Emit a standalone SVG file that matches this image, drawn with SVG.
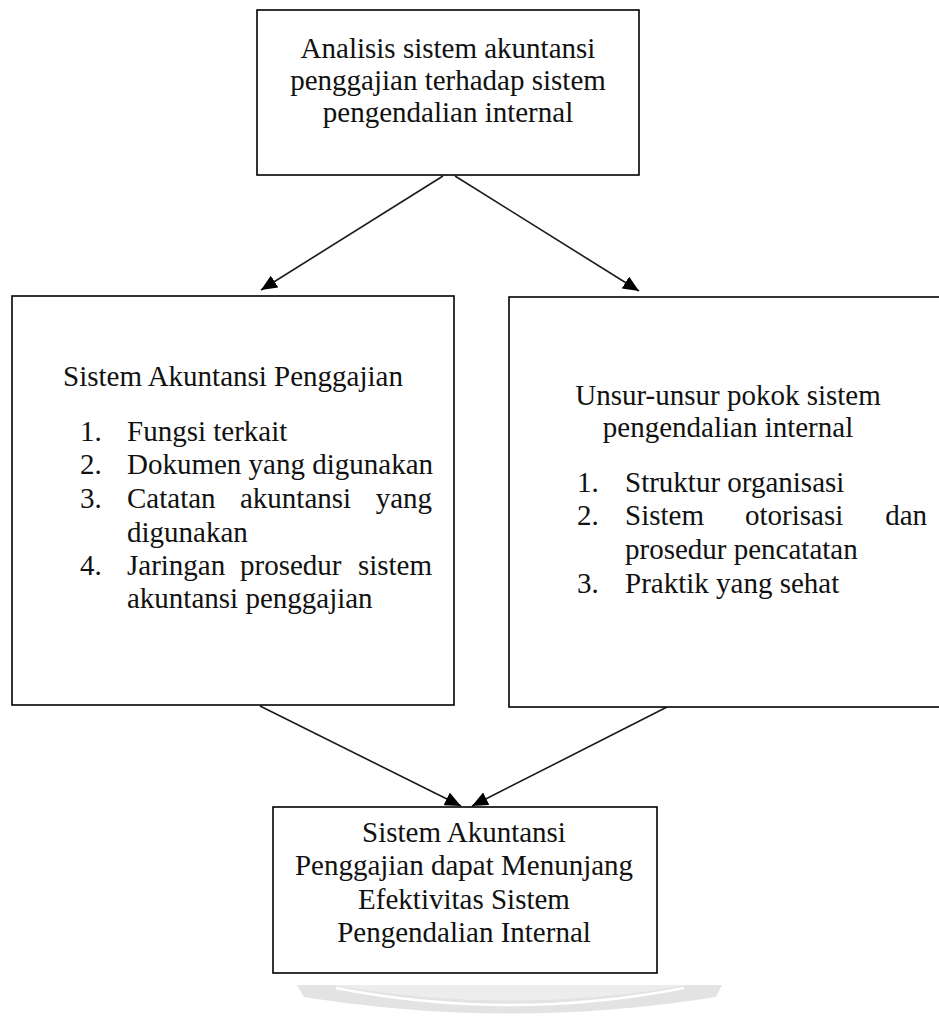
<svg xmlns="http://www.w3.org/2000/svg" width="939" height="1019" viewBox="0 0 939 1019">
<style>
.box{fill:#fff;stroke:#000;stroke-width:1.6}
.t{font-family:"Liberation Serif","Times New Roman",serif;font-size:29px;fill:#111}
.c{text-anchor:middle}
.e{text-anchor:end}
.conn{stroke:#1a1a1a;stroke-width:1.6;fill:none;marker-end:url(#ah)}
</style>
<defs>
<marker id="ah" markerUnits="userSpaceOnUse" markerWidth="18" markerHeight="14" refX="16" refY="7" orient="auto">
<path d="M0,0 L16,7 L0,14 Z" fill="#000"/>
</marker>
</defs>
<rect width="939" height="1019" fill="#fff"/>
<g id="watermark">
<path d="M297,985 L722,985 L716,997 Q510,1030 304,997 Z" fill="#e3e3e3"/>
<path d="M332,985 L688,985 Q510,1016 332,985 Z" fill="#ededed"/>
<path d="M336,988 Q510,1022 684,988" stroke="#fff" stroke-width="2.5" fill="none"/>
</g>
<g id="connectors">
<line class="conn" x1="443" y1="176" x2="261" y2="290"/>
<line class="conn" x1="455" y1="176" x2="639" y2="291"/>
<line class="conn" x1="260" y1="706" x2="461" y2="806"/>
<line class="conn" x1="667" y1="707" x2="472" y2="806"/>
</g>
<g id="node-top">
<rect class="box" x="257" y="10" width="382" height="165"/>
<text class="t c" x="448" y="58">Analisis sistem akuntansi</text>
<text class="t c" x="448" y="90">penggajian terhadap sistem</text>
<text class="t c" x="448" y="122">pengendalian internal</text>
</g>
<g id="node-left">
<rect class="box" x="12" y="296" width="442" height="409"/>
<text class="t c" x="233" y="386">Sistem Akuntansi Penggajian</text>
<text class="t" x="80" y="441">1.</text>
<text class="t" x="127" y="441">Fungsi terkait</text>
<text class="t" x="80" y="474">2.</text>
<text class="t" x="127" y="474">Dokumen yang digunakan</text>
<text class="t" x="80" y="508">3.</text>
<text class="t" x="127" y="508">Catatan</text>
<text class="t" x="240" y="508">akuntansi</text>
<text class="t e" x="432" y="508">yang</text>
<text class="t" x="127" y="542">digunakan</text>
<text class="t" x="80" y="575">4.</text>
<text class="t" x="127" y="575">Jaringan</text>
<text class="t" x="240" y="575">prosedur</text>
<text class="t e" x="432" y="575">sistem</text>
<text class="t" x="127" y="608">akuntansi penggajian</text>
</g>
<g id="node-right">
<rect class="box" x="509" y="297" width="440" height="410"/>
<text class="t c" x="728" y="405">Unsur-unsur pokok sistem</text>
<text class="t c" x="728" y="437">pengendalian internal</text>
<text class="t" x="577" y="492">1.</text>
<text class="t" x="625" y="492">Struktur organisasi</text>
<text class="t" x="577" y="525">2.</text>
<text class="t" x="625" y="525">Sistem</text>
<text class="t" x="745" y="525">otorisasi</text>
<text class="t e" x="927" y="525">dan</text>
<text class="t" x="625" y="559">prosedur pencatatan</text>
<text class="t" x="577" y="593">3.</text>
<text class="t" x="625" y="593">Praktik yang sehat</text>
</g>
<g id="node-bottom">
<rect class="box" x="273" y="807" width="384" height="166"/>
<text class="t c" x="464" y="842">Sistem Akuntansi</text>
<text class="t c" x="464" y="875">Penggajian dapat Menunjang</text>
<text class="t c" x="464" y="909">Efektivitas Sistem</text>
<text class="t c" x="464" y="942">Pengendalian Internal</text>
</g>
</svg>
